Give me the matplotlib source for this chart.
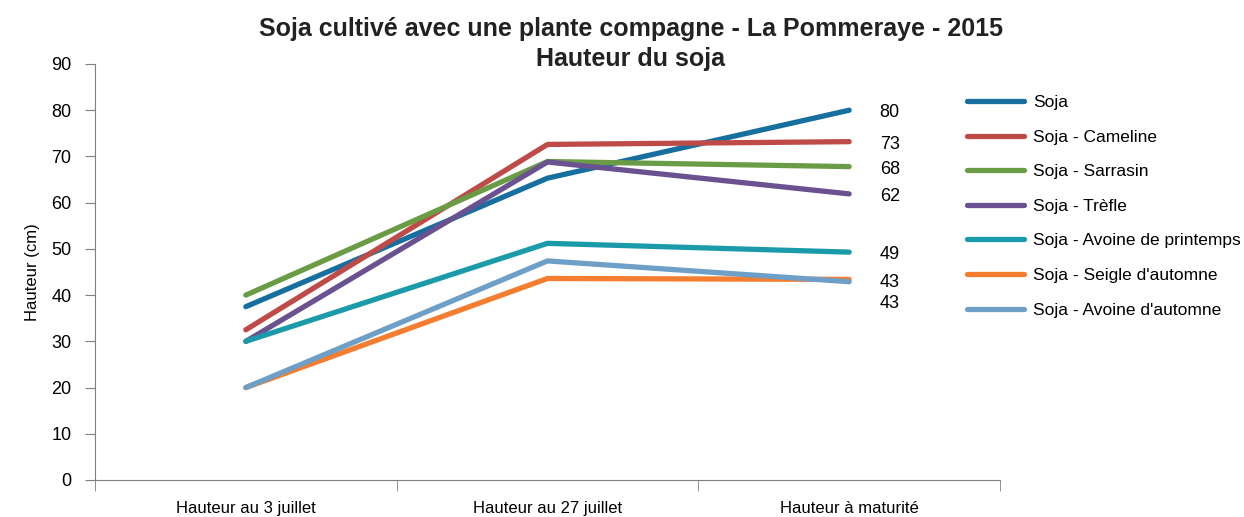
import matplotlib.pyplot as plt
import numpy as np

plt.rcParams['font.family'] = ['Liberation Sans', 'DejaVu Sans']

stages = ['Hauteur au 3 juillet', 'Hauteur au 27 juillet', 'Hauteur à maturité']

soja = [37.5, 65.3, 80]
cameline = [32.5, 72.6, 73.2]
sarrasin = [40, 68.9, 67.8]
trefle = [30, 68.8, 61.9]
avoine_printemps = [30, 51.2, 49.3]
seigle = [20, 43.6, 43.4]
avoine_automne = [20, 47.4, 42.9]

names = ['Soja', 'Soja - Cameline', 'Soja - Sarrasin', 'Soja - Trèfle',
         'Soja - Avoine de printemps', "Soja - Seigle d'automne", "Soja - Avoine d'automne"]
series = [soja, cameline, sarrasin, trefle, avoine_printemps, seigle, avoine_automne]
end_labels = ['80', '73', '68', '62', '49', '43', '43']
colors = ['#176FA0', '#BE4B48', '#6A9C46', '#6A5290', '#1B9BAA', '#F47D30', '#6E9FC7']

fig = plt.figure(figsize=(12.44, 5.17), dpi=100)
ax = fig.add_axes([95/1244, 1-480/517, (1000-95)/1244, (480-64)/517])

x = np.arange(len(stages))
lines = []
for vals, name, col in zip(series, names, colors):
    ln, = ax.plot(x, vals, color=col, lw=3.8, solid_capstyle='round',
                  solid_joinstyle='round', label=name)
    lines.append(ln)

# labels at the last point
for i, (vals, lab) in enumerate(zip(series, end_labels)):
    dy = -2
    if i == 6:
        dy = -16
    ax.annotate(lab, (x[-1], vals[-1]), xytext=(22, dy), textcoords='offset points',
                va='center', ha='left', fontsize=13)

ax.set_xlim(-0.5, 2.5)
ax.set_ylim(0, 90)
ax.set_yticks(range(0, 91, 10))
ax.set_xticks(x)
ax.set_xticklabels(stages, fontsize=12)
ax.set_xticks([-0.5, 0.5, 1.5, 2.5], minor=True)
ax.tick_params(axis='x', which='major', length=0, pad=15)
ax.tick_params(axis='x', which='minor', length=8, color='#7f7f7f')
ax.tick_params(axis='y', labelsize=13, length=7, color='#7f7f7f', pad=10)
for s in ['top', 'right']:
    ax.spines[s].set_visible(False)
for s in ['left', 'bottom']:
    ax.spines[s].set_color('#7f7f7f')
ax.set_ylabel('Hauteur (cm)', fontsize=12, labelpad=8)

fig.text(631/1244, 1-44/517, 'Soja cultivé avec une plante compagne - La Pommeraye - 2015\nHauteur du soja',
         ha='center', va='center', fontsize=18, fontweight='bold', color='#222222',
         linespacing=1.32)

fig.legend(handles=lines, loc='upper left', bbox_to_anchor=(960/1244, 1-88/517),
           frameon=False, fontsize=12.5, handlelength=3.3, labelspacing=1.12,
           handletextpad=0.5, borderaxespad=0)

fig.savefig('out.png', dpi=100)
